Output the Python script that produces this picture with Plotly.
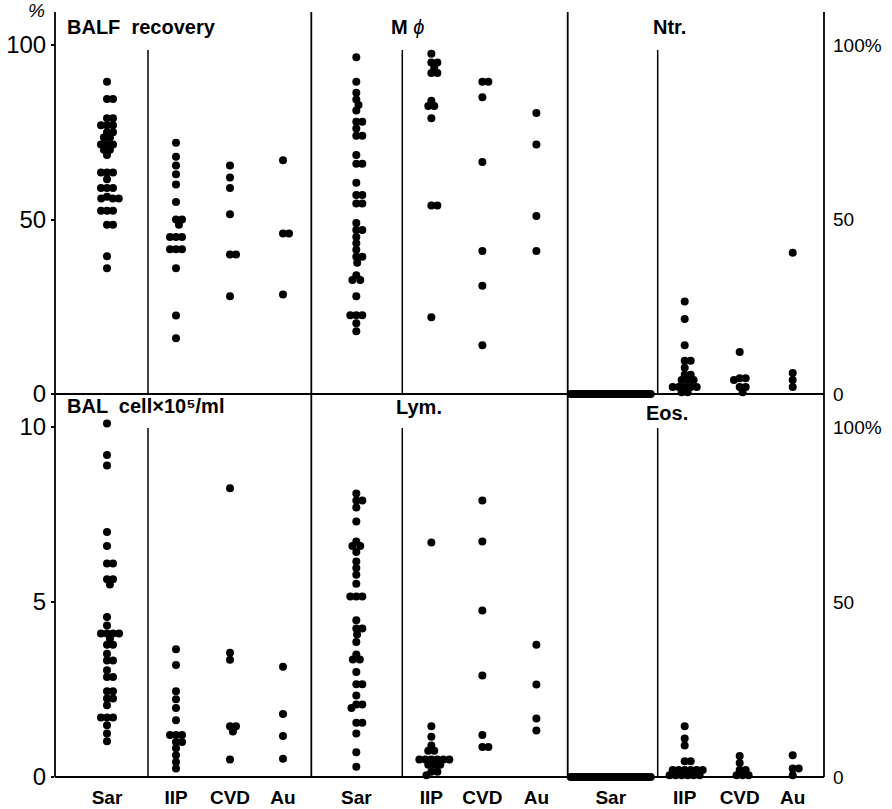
import plotly.graph_objects as go

W, H = 892, 809

categories = ["Sar", "IIP", "CVD", "Au"]

# ---- top row: BALF recovery (%)
balf_sar = [89.5, 84.5, 84.5, 79, 79, 77, 77, 77, 75, 75, 73.5, 73.5, 71.5, 71.5, 71.5, 70, 70, 68.5,
            63.5, 63.5, 63.5, 61.5, 59, 59, 59, 56.5, 56, 56, 56, 52.5, 52.5, 52.5, 48.5, 48.5, 39.5, 36]
balf_iip = [72, 68, 65.5, 63, 60, 55, 50, 50, 48.5, 45, 45, 45, 41.5, 41.5, 41.5, 36, 22.5, 16]
balf_cvd = [65.5, 62, 59, 51.5, 40, 40, 28]
balf_au = [67, 46, 46, 28.5]

# ---- top row: macrophages (%)
mph_sar = [96.5, 89.5, 86.3, 84.4, 82.8, 81.2, 78, 78, 76.1, 74, 74, 68.5, 66, 66, 60.5, 57, 57,
           54.6, 54.6, 49, 47, 47, 45, 43.2, 41.3, 39.3, 39.3, 37.6, 34, 32.7, 32.7, 28,
           22.6, 22.6, 22.6, 20.3, 18]
mph_iip = [97.5, 95, 95, 93.5, 92, 92, 84, 82.5, 82.5, 79, 54, 54, 22]
mph_cvd = [89.5, 89.5, 85, 66.5, 41, 31, 14]
mph_au = [80.5, 71.5, 51, 41]

# ---- top row: neutrophils (%)
ntr_sar = [0, 0, 0, 0, 0, 0, 0, 0, 0, 0, 0, 0, 0, 0, 0, 0, 0, 0,
           0, 0, 0, 0, 0, 0, 0, 0, 0, 0, 0, 0, 0, 0, 0, 0, 0, 0]
ntr_iip = [26.5, 21.5, 14, 9.5, 9.5, 7.5, 5.5, 5.5, 4, 4, 4, 2, 2, 2, 2, 2, 0.5, 0.5]
ntr_cvd = [12, 4.5, 4.5, 4, 2, 2, 0.5]
ntr_au = [40.5, 6, 4, 2]

# ---- bottom row: BAL cell x10^5/ml
cell_sar = [10.1, 9.2, 8.9, 7.0, 6.6, 6.1, 6.1, 5.65, 5.65, 5.5, 4.57, 4.33, 4.1, 4.1, 4.1, 4.1,
            3.95, 3.78, 3.78, 3.52, 3.33, 3.33, 3.05, 2.86, 2.86, 2.45, 2.45, 2.24, 2.24, 2.05,
            1.7, 1.7, 1.7, 1.48, 1.24, 1.02]
cell_iip = [3.65, 3.2, 2.45, 2.22, 1.97, 1.62, 1.2, 1.2, 1.2, 1.0, 1.0, 0.82, 0.62, 0.43, 0.24]
cell_cvd = [8.25, 3.55, 3.35, 1.45, 1.45, 1.3, 0.5]
cell_au = [3.15, 1.8, 1.17, 0.52]

# ---- bottom row: lymphocytes (%)
lym_sar = [81, 79, 79, 77, 73, 67.3, 66, 66, 64.3, 61.6, 59.7, 57.8, 55.2, 51.6, 51.6, 51.6,
           44.8, 42.4, 42.4, 40.7, 38.6, 35, 33.6, 33.6, 30, 26.5, 26.5, 23.3, 20.7, 20.7, 19.7,
           15.5, 15.5, 12.4, 7.1, 2.9]
lym_iip = [67, 14.5, 11.5, 9, 7.5, 7.5, 5, 5, 5, 5, 5, 5, 3.5, 3.5, 3.5, 1.5, 1.5, 0.5]
lym_cvd = [79, 67.3, 47.6, 29, 12, 8.6, 8.6]
lym_au = [37.8, 26.4, 16.7, 13.3]

# ---- bottom row: eosinophils (%)
eos_sar = [0, 0, 0, 0, 0, 0, 0, 0, 0, 0, 0, 0, 0, 0, 0, 0, 0, 0,
           0, 0, 0, 0, 0, 0, 0, 0, 0, 0, 0, 0, 0, 0, 0, 0, 0, 0]
eos_iip = [14.5, 11, 9, 4.5, 4.5, 2, 2, 2, 2, 2, 2, 0.5, 0.5, 0.5, 0.5, 0.5, 0.5]
eos_cvd = [6, 4, 2, 2, 0.5, 0.5, 0.5]
eos_au = [6.2, 2.4, 2.4, 0.5]

# ---------------- layout geometry (pixels) ----------------
X_EDGES = [55, 311.3, 567.7, 824]
PW = X_EDGES[1] - X_EDGES[0]
Y_TOP, Y_MID, Y_BOT = 12, 394, 777
COL_POS = [[52, 121, 175, 228], [45, 120, 171, 225], [43, 117, 172, 225]]
COL_DIV = [93, 91, 90]
TOP_RANGE = (Y_MID - Y_TOP) / 3.49          # percent
BOT_RANGE_CELL = (Y_BOT - Y_MID) / 35.0     # x10^5/ml
BOT_RANGE_PCT = (Y_BOT - Y_MID) / 3.5       # percent

FONT = "Liberation Sans, Arial, Helvetica, sans-serif"
BFONT = "Liberation Sans, Arial, Helvetica, sans-serif"


def px(x):
    return x / W


def py(y):
    return 1 - y / H


def swarm(values, px_per_unit, d=6.0, wmax=16):
    placed = []
    xs = [0.0] * len(values)
    order = sorted(range(len(values)), key=lambda i: -values[i])
    for i in order:
        y = values[i] * px_per_unit
        cands = [0.0]
        for (qx, qy) in placed:
            dy = abs(qy - y)
            if dy < d:
                dx = (d * d - dy * dy) ** 0.5
                cands += [qx + dx, qx - dx]
        cands.sort(key=lambda c: (round(abs(c), 6), -c))
        for c in cands:
            if all((c - qx) ** 2 + (y - qy) ** 2 >= d * d - 1e-6 for qx, qy in placed):
                xs[i] = c
                placed.append((c, y))
                break
    if xs:
        hi = max(xs)
        lo = min(xs)
        m = max(hi, -lo)
        if m > wmax:
            xs = [(v - (hi + lo) / 2) * (2 * wmax) / (hi - lo) for v in xs]
    return xs


panels = [
    (0, 0, [balf_sar, balf_iip, balf_cvd, balf_au], 3.49, TOP_RANGE),
    (0, 1, [mph_sar, mph_iip, mph_cvd, mph_au], 3.49, TOP_RANGE),
    (0, 2, [ntr_sar, ntr_iip, ntr_cvd, ntr_au], 3.49, TOP_RANGE),
    (1, 0, [cell_sar, cell_iip, cell_cvd, cell_au], 35.0, BOT_RANGE_CELL),
    (1, 1, [lym_sar, lym_iip, lym_cvd, lym_au], 3.5, BOT_RANGE_PCT),
    (1, 2, [eos_sar, eos_iip, eos_cvd, eos_au], 3.5, BOT_RANGE_PCT),
]

fig = go.Figure()
layout = {}

for k, (row, col, series, ppu, yr) in enumerate(panels, start=1):
    xa = "x" if k == 1 else f"x{k}"
    ya = "y" if k == 1 else f"y{k}"
    xs_all, ys_all = [], []
    for ci, vals in enumerate(series):
        wmax = 40 if ci == 0 else 20
        offs = swarm(vals, ppu, wmax=wmax)
        xs_all += [COL_POS[col][ci] + o for o in offs]
        ys_all += list(vals)
    fig.add_trace(go.Scatter(
        x=xs_all, y=ys_all, mode="markers", xaxis=xa, yaxis=ya,
        marker=dict(color="black", size=8, line=dict(width=0)),
        cliponaxis=False, showlegend=False, hoverinfo="skip"))

    x0, x1 = X_EDGES[col], X_EDGES[col + 1]
    yd = [py(Y_MID), py(Y_TOP)] if row == 0 else [py(Y_BOT), py(Y_MID)]

    xaxis = dict(domain=[px(x0), px(x1)], range=[0, PW], showgrid=False, zeroline=False,
                 showline=False, fixedrange=True, anchor=ya, automargin=False)
    if row == 1:
        xaxis.update(visible=True, tickvals=COL_POS[col],
                     ticktext=[f"<b>{c}</b>" for c in categories],
                     ticks="outside", ticklen=3, tickcolor="rgba(0,0,0,0)",
                     tickfont=dict(family=BFONT, size=19, color="black"))
    else:
        xaxis.update(visible=False)
    layout["xaxis" if k == 1 else f"xaxis{k}"] = xaxis

    yaxis = dict(domain=yd, range=[0, yr], showgrid=False, zeroline=False, showline=False,
                 anchor=xa, fixedrange=True, automargin=False)
    if col == 0:
        if row == 0:
            tv, tt = [0, 50, 100], ["0", "50", "100"]
        else:
            tv, tt = [0, 5, 10], ["0", "5", "10"]
        yaxis.update(visible=True, side="left", tickvals=tv, ticktext=tt, ticks="outside",
                     ticklen=3, tickwidth=1.5, tickcolor="black", ticklabelstandoff=0,
                     tickfont=dict(family=FONT, size=24, color="black"))
    elif col == 2:
        yaxis.update(visible=True, side="right", tickvals=[0, 50, 100],
                     ticktext=["0", "50", "100%"], ticks="",
                     ticklabelstandoff=8,
                     tickfont=dict(family=FONT, size=19, color="black"))
    else:
        yaxis.update(visible=False)
    layout["yaxis" if k == 1 else f"yaxis{k}"] = yaxis

# ---------------- frame lines ----------------
LW = 1.8
shapes = []
for xe in X_EDGES:
    shapes.append(dict(type="line", xref="paper", yref="paper", x0=px(xe), x1=px(xe),
                       y0=py(Y_TOP), y1=py(Y_BOT), line=dict(color="black", width=LW)))
for yh in (Y_MID, Y_BOT):
    shapes.append(dict(type="line", xref="paper", yref="paper", x0=px(X_EDGES[0]),
                       x1=px(X_EDGES[-1]), y0=py(yh), y1=py(yh),
                       line=dict(color="black", width=LW)))
for col in range(3):
    xd = X_EDGES[col] + COL_DIV[col]
    for (ya0, ya1) in ((50, Y_MID), (428, Y_BOT)):
        shapes.append(dict(type="line", xref="paper", yref="paper", x0=px(xd), x1=px(xd),
                           y0=py(ya0), y1=py(ya1), line=dict(color="black", width=1.5)))


def ann(text, x, y, size=20, xanchor="left", font=BFONT):
    return dict(text=text, x=px(x), y=py(y), xref="paper", yref="paper", showarrow=False,
                xanchor=xanchor, yanchor="middle", borderpad=0,
                font=dict(family=font, size=size, color="black"))


annotations = [
    ann("<b>BALF  recovery</b>", 66, 27),
    ann("<b>M</b> <i>ϕ</i>", 407, 27, xanchor="center"),
    ann("<b>Ntr.</b>", 669, 27, xanchor="center"),
    ann("<b>BAL  cell×10⁵/ml</b>", 66, 406),
    ann("<b>Lym.</b>", 419, 407, xanchor="center"),
    ann("<b>Eos.</b>", 667, 413, xanchor="center"),
    ann("<i>%</i>", 36, 11, size=19, xanchor="center", font=FONT),
]

fig.update_layout(
    width=W, height=H, margin=dict(l=0, r=0, t=0, b=0, autoexpand=False),
    paper_bgcolor="white", plot_bgcolor="rgba(0,0,0,0)",
    shapes=shapes, annotations=annotations, showlegend=False,
    **layout,
)

POST = (
    "var gd=document.getElementById('{plot_id}');"
    "document.documentElement.style.margin='0';"
    "document.documentElement.style.padding='0';"
    "document.documentElement.style.overflow='hidden';"
    "document.body.style.margin='0';"
    "document.body.style.padding='0';"
    "document.body.style.overflow='hidden';"
    "document.body.style.height='809px';"
    "if(gd&&gd.parentElement){gd.parentElement.style.height='809px';"
    "gd.parentElement.style.overflow='hidden';gd.parentElement.style.lineHeight='0';}"
)

fig.write_html("out.html", post_script=POST, config={"displayModeBar": False})
